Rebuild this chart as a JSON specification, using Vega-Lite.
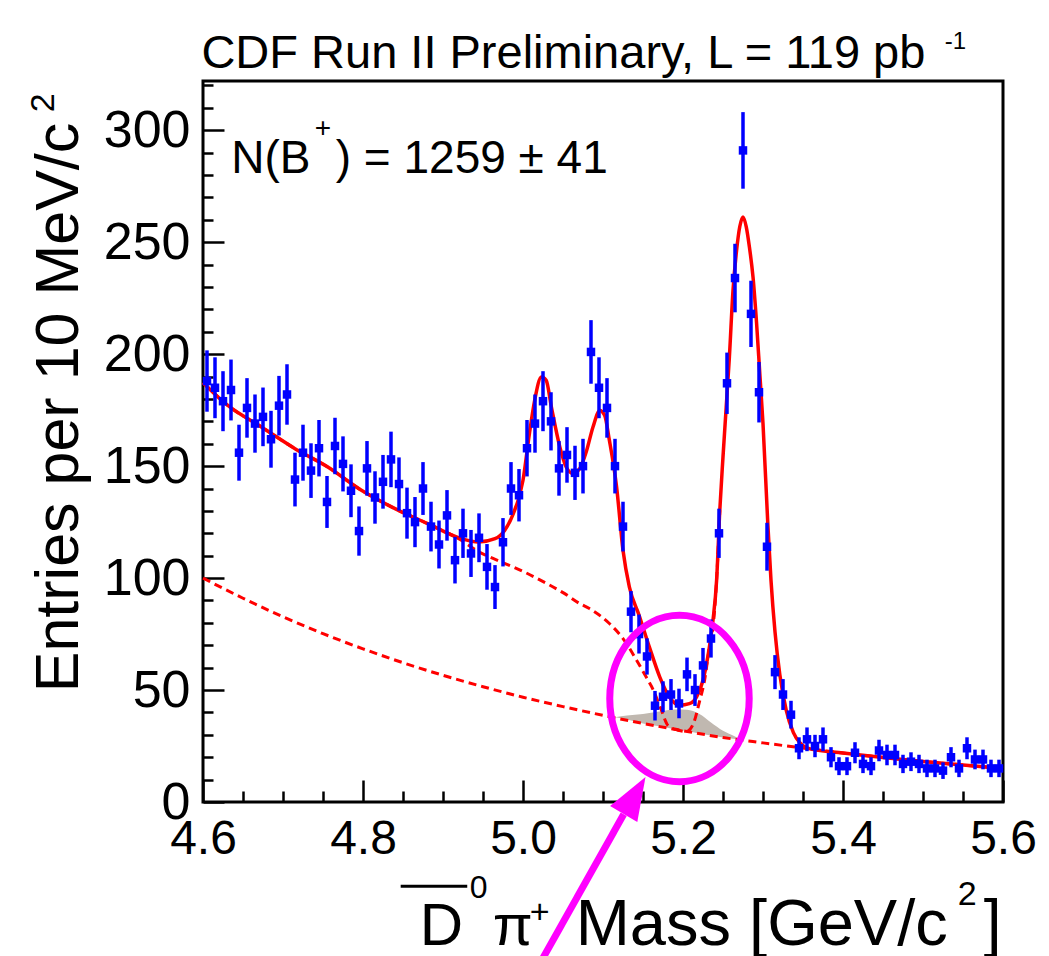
{
  "$schema": "https://vega.github.io/schema/vega-lite/v6.json",
  "width": 800,
  "height": 721,
  "autosize": {"type": "none"},
  "padding": {"left": 203, "top": 81, "right": 46, "bottom": 154},
  "background": "white",
  "config": {
    "view": {"stroke": "#000000", "strokeWidth": 3},
    "axis": {"grid": false, "domain": false, "tickColor": "#000000", "labelColor": "#000000", "labelFont": "Liberation Sans", "tickWidth": 2.5}
  },
  "resolve": {"axis": {"x": "independent", "y": "independent"}},
  "datasets": {
    "bins": [
      {"x":4.605,"n":188,"err":13.7},{"x":4.615,"n":185,"err":13.6},{"x":4.625,"n":179,"err":13.4},{"x":4.635,"n":184,"err":13.6},{"x":4.645,"n":156,"err":12.5},
      {"x":4.655,"n":176,"err":13.3},{"x":4.665,"n":169,"err":13},{"x":4.675,"n":172,"err":13.1},{"x":4.685,"n":162,"err":12.7},{"x":4.695,"n":177,"err":13.3},
      {"x":4.705,"n":182,"err":13.5},{"x":4.715,"n":144,"err":12},{"x":4.725,"n":156,"err":12.5},{"x":4.735,"n":148,"err":12.2},{"x":4.745,"n":158,"err":12.6},
      {"x":4.755,"n":134,"err":11.6},{"x":4.765,"n":159,"err":12.6},{"x":4.775,"n":151,"err":12.3},{"x":4.785,"n":139,"err":11.8},{"x":4.795,"n":121,"err":11},
      {"x":4.805,"n":149,"err":12.2},{"x":4.815,"n":136,"err":11.7},{"x":4.825,"n":143,"err":12},{"x":4.835,"n":153,"err":12.4},{"x":4.845,"n":142,"err":11.9},
      {"x":4.855,"n":129,"err":11.4},{"x":4.865,"n":125,"err":11.2},{"x":4.875,"n":140,"err":11.8},{"x":4.885,"n":123,"err":11.1},{"x":4.895,"n":115,"err":10.7},
      {"x":4.905,"n":128,"err":11.3},{"x":4.915,"n":108,"err":10.4},{"x":4.925,"n":120,"err":11},{"x":4.935,"n":111,"err":10.5},{"x":4.945,"n":118,"err":10.9},
      {"x":4.955,"n":105,"err":10.2},{"x":4.965,"n":96,"err":9.8},{"x":4.975,"n":116,"err":10.8},{"x":4.985,"n":140,"err":11.8},{"x":4.995,"n":137,"err":11.7},
      {"x":5.005,"n":158,"err":12.6},{"x":5.015,"n":169,"err":13},{"x":5.025,"n":179,"err":13.4},{"x":5.035,"n":170,"err":13},{"x":5.045,"n":149,"err":12.2},
      {"x":5.055,"n":155,"err":12.4},{"x":5.065,"n":147,"err":12.1},{"x":5.075,"n":150,"err":12.2},{"x":5.085,"n":201,"err":14.2},{"x":5.095,"n":185,"err":13.6},
      {"x":5.105,"n":176,"err":13.3},{"x":5.115,"n":150,"err":12.2},{"x":5.125,"n":123,"err":11.1},{"x":5.135,"n":85,"err":9.2},{"x":5.145,"n":75,"err":8.7},
      {"x":5.155,"n":65,"err":8.1},{"x":5.165,"n":43,"err":6.6},{"x":5.175,"n":47,"err":6.9},{"x":5.185,"n":48,"err":6.9},{"x":5.195,"n":44,"err":6.6},
      {"x":5.205,"n":57,"err":7.5},{"x":5.215,"n":50,"err":7.1},{"x":5.225,"n":61,"err":7.8},{"x":5.235,"n":73,"err":8.5},{"x":5.245,"n":120,"err":11},
      {"x":5.255,"n":187,"err":13.7},{"x":5.265,"n":234,"err":15.3},{"x":5.275,"n":291,"err":17.1},{"x":5.285,"n":218,"err":14.8},{"x":5.295,"n":183,"err":13.5},
      {"x":5.305,"n":114,"err":10.7},{"x":5.315,"n":58,"err":7.6},{"x":5.325,"n":48,"err":6.9},{"x":5.335,"n":39,"err":6.2},{"x":5.345,"n":24,"err":4.9},
      {"x":5.355,"n":28,"err":5.3},{"x":5.365,"n":25,"err":5},{"x":5.375,"n":28,"err":5.3},{"x":5.385,"n":20,"err":4.5},{"x":5.395,"n":16,"err":4},
      {"x":5.405,"n":16,"err":4},{"x":5.415,"n":22,"err":4.7},{"x":5.425,"n":17,"err":4.1},{"x":5.435,"n":16,"err":4},{"x":5.445,"n":23,"err":4.8},
      {"x":5.455,"n":21,"err":4.6},{"x":5.465,"n":21,"err":4.6},{"x":5.475,"n":17,"err":4.1},{"x":5.485,"n":18,"err":4.2},{"x":5.495,"n":17,"err":4.1},
      {"x":5.505,"n":15,"err":3.9},{"x":5.515,"n":15,"err":3.9},{"x":5.525,"n":14,"err":3.7},{"x":5.535,"n":20,"err":4.5},{"x":5.545,"n":15,"err":3.9},
      {"x":5.555,"n":24,"err":4.9},{"x":5.565,"n":19,"err":4.4},{"x":5.575,"n":19,"err":4.4},{"x":5.585,"n":15,"err":3.9},{"x":5.595,"n":15,"err":3.9}
    ],
    "fit": [
      {"x":4.6,"y":187.3},{"x":4.631,"y":177.1},{"x":4.673,"y":167.5},{"x":4.715,"y":157.8},{"x":4.756,"y":149.6},{"x":4.798,"y":139.2},
      {"x":4.84,"y":131.0},{"x":4.881,"y":124.3},{"x":4.923,"y":117.6},{"x":4.944,"y":116.1},{"x":4.965,"y":117.6},{"x":4.977,"y":121.3},
      {"x":4.9875,"y":128.5},{"x":5.0,"y":143.7},{"x":5.008,"y":164.5},{"x":5.0146,"y":179.4},{"x":5.023,"y":189.8},{"x":5.029,"y":188.3},
      {"x":5.0355,"y":176.4},{"x":5.046,"y":158.6},{"x":5.054,"y":149.6},{"x":5.0625,"y":146.7},{"x":5.071,"y":148.9},{"x":5.079,"y":156.3},
      {"x":5.0875,"y":167.5},{"x":5.096,"y":174.9},{"x":5.102,"y":172.7},{"x":5.108,"y":161.5},{"x":5.117,"y":140.7},{"x":5.125,"y":112.4},
      {"x":5.133,"y":96.0},{"x":5.145,"y":83.5},{"x":5.158,"y":69.2},{"x":5.171,"y":55.8},{"x":5.183,"y":46.9},{"x":5.196,"y":43.2},
      {"x":5.208,"y":43.9},{"x":5.217,"y":46.9},{"x":5.225,"y":54.4},{"x":5.231,"y":64.8},{"x":5.2375,"y":81.2},{"x":5.242,"y":99.0},
      {"x":5.246,"y":130.3},{"x":5.25,"y":154.1},{"x":5.254,"y":176.4},{"x":5.258,"y":198.8},{"x":5.2625,"y":228.5},{"x":5.267,"y":246.4},
      {"x":5.271,"y":257.0},{"x":5.275,"y":261.3},{"x":5.279,"y":257.0},{"x":5.283,"y":247.9},{"x":5.2875,"y":234.5},{"x":5.292,"y":213.7},
      {"x":5.296,"y":191.3},{"x":5.3,"y":169.0},{"x":5.306,"y":124.3},{"x":5.31,"y":99.0},{"x":5.315,"y":76.0},{"x":5.321,"y":57.0},
      {"x":5.329,"y":41.0},{"x":5.338,"y":31.0},{"x":5.346,"y":26.5},{"x":5.36,"y":23.6},{"x":5.4,"y":21.9},{"x":5.45,"y":19.9},
      {"x":5.5,"y":18.1},{"x":5.55,"y":16.5},{"x":5.6,"y":15.0}
    ],
    "comb": [
      {"x":4.6,"y":187.3},{"x":4.631,"y":177.1},{"x":4.673,"y":167.5},{"x":4.715,"y":157.8},{"x":4.756,"y":149.6},{"x":4.798,"y":139.2},
      {"x":4.84,"y":131.0},{"x":4.881,"y":124.3},{"x":4.92,"y":117.5},{"x":4.946,"y":111.5},{"x":4.971,"y":107.5},{"x":5.0,"y":103.0},
      {"x":5.03,"y":97.5},{"x":5.05,"y":93.5},{"x":5.071,"y":88.6},{"x":5.083,"y":86.4},{"x":5.108,"y":79.7},{"x":5.125,"y":73.0},
      {"x":5.142,"y":63.3},{"x":5.154,"y":55.8},{"x":5.163,"y":49.9},{"x":5.173,"y":41.0},{"x":5.181,"y":34.3},{"x":5.192,"y":32.3},{"x":5.2,"y":31.8}
    ],
    "sig": [
      {"x":5.19,"y":32.6},{"x":5.204,"y":31.4},{"x":5.213,"y":35.0},{"x":5.221,"y":45.4},{"x":5.227,"y":54.4},{"x":5.233,"y":69.2},
      {"x":5.238,"y":79.7},{"x":5.242,"y":99.0},{"x":5.246,"y":130.3}
    ],
    "bkg": [
      {"x":4.6,"y":100},{"x":4.65,"y":91},{"x":4.7,"y":82.7},{"x":4.75,"y":75.2},{"x":4.8,"y":68.4},{"x":4.85,"y":62.2},{"x":4.9,"y":56.6},
      {"x":4.95,"y":51.5},{"x":5.0,"y":46.8},{"x":5.05,"y":42.6},{"x":5.1,"y":38.7},{"x":5.15,"y":35.1},{"x":5.2,"y":31.8},{"x":5.25,"y":28.8},
      {"x":5.3,"y":26.4},{"x":5.35,"y":24.1},{"x":5.4,"y":21.9},{"x":5.45,"y":19.9},{"x":5.5,"y":18.1},{"x":5.55,"y":16.5},{"x":5.6,"y":15.0}
    ],
    "dk": [
      {"x":5.115,"lo":37.9,"hi":37.9},{"x":5.13,"lo":36.9,"hi":38.6},{"x":5.15,"lo":35.1,"hi":39.3},{"x":5.17,"lo":33.8,"hi":40.4},
      {"x":5.19,"lo":32.5,"hi":41.3},{"x":5.205,"lo":31.6,"hi":41.2},{"x":5.22,"lo":30.6,"hi":39.4},{"x":5.235,"lo":29.7,"hi":35.5},
      {"x":5.25,"lo":28.8,"hi":31.8},{"x":5.265,"lo":28.1,"hi":29.2},{"x":5.272,"lo":27.8,"hi":27.8}
    ]
  },
  "layer": [
    {
      "data": {"name": "dk"},
      "mark": {"type": "area", "color": "#c0b8b0", "interpolate": "monotone"},
      "encoding": {
        "x": {"field": "x", "type": "quantitative", "scale": {"domain": [4.6, 5.6], "nice": false, "zero": false}, "axis": null},
        "y": {"field": "hi", "type": "quantitative", "scale": {"domain": [0, 322], "nice": false}, "axis": null},
        "y2": {"field": "lo"}
      }
    },
    {
      "data": {"name": "bkg"},
      "mark": {"type": "line", "color": "#ff0000", "strokeWidth": 3, "strokeDash": [8, 5], "interpolate": "monotone"},
      "encoding": {
        "x": {"field": "x", "type": "quantitative", "scale": {"domain": [4.6, 5.6], "nice": false, "zero": false},
              "axis": {"orient": "bottom", "title": null, "labels": false, "tickSize": -11, "values": [4.65,4.7,4.75,4.85,4.9,4.95,5.05,5.1,5.15,5.25,5.3,5.35,5.45,5.5,5.55]}},
        "y": {"field": "y", "type": "quantitative", "scale": {"domain": [0, 322], "nice": false},
              "axis": {"orient": "left", "title": null, "labels": false, "tickSize": -10, "values": [10,20,30,40,60,70,80,90,110,120,130,140,160,170,180,190,210,220,230,240,260,270,280,290,310,320]}}
      }
    },
    {
      "data": {"name": "comb"},
      "mark": {"type": "line", "color": "#ff0000", "strokeWidth": 3, "strokeDash": [8, 5], "interpolate": "monotone"},
      "encoding": {
        "x": {"field": "x", "type": "quantitative", "scale": {"domain": [4.6, 5.6], "nice": false, "zero": false}, "axis": null},
        "y": {"field": "y", "type": "quantitative", "scale": {"domain": [0, 322], "nice": false}, "axis": null}
      }
    },
    {
      "data": {"name": "sig"},
      "mark": {"type": "line", "color": "#ff0000", "strokeWidth": 3, "strokeDash": [8, 5], "interpolate": "monotone"},
      "encoding": {
        "x": {"field": "x", "type": "quantitative", "scale": {"domain": [4.6, 5.6], "nice": false, "zero": false}, "axis": null},
        "y": {"field": "y", "type": "quantitative", "scale": {"domain": [0, 322], "nice": false}, "axis": null}
      }
    },
    {
      "data": {"name": "fit"},
      "mark": {"type": "line", "color": "#ff0000", "strokeWidth": 3.5, "interpolate": "monotone"},
      "encoding": {
        "x": {"field": "x", "type": "quantitative", "scale": {"domain": [4.6, 5.6], "nice": false, "zero": false}, "axis": null},
        "y": {"field": "y", "type": "quantitative", "scale": {"domain": [0, 322], "nice": false}, "axis": null}
      }
    },
    {
      "data": {"name": "bins"},
      "mark": {"type": "errorbar", "ticks": false, "thickness": 3.5, "color": "#0000ff", "rule": {"strokeWidth": 3.5, "color": "#0000ff"}},
      "encoding": {
        "x": {"field": "x", "type": "quantitative", "scale": {"domain": [4.6, 5.6], "nice": false, "zero": false}, "axis": null},
        "y": {"field": "n", "type": "quantitative", "scale": {"domain": [0, 322], "nice": false}, "axis": null},
        "yError": {"field": "err"}
      }
    },
    {
      "data": {"name": "bins"},
      "mark": {"type": "point", "shape": "square", "filled": true, "size": 72, "color": "#0000ff", "opacity": 1},
      "encoding": {
        "x": {"field": "x", "type": "quantitative", "scale": {"domain": [4.6, 5.6], "nice": false, "zero": false},
              "axis": {"orient": "bottom", "title": null, "values": [4.6, 4.8, 5.0, 5.2, 5.4, 5.6], "format": ".1f", "tickSize": -22, "labelFontSize": 48, "labelPadding": 35, "labelFlush": false, "labelOverlap": false}},
        "y": {"field": "n", "type": "quantitative", "scale": {"domain": [0, 322], "nice": false},
              "axis": {"orient": "left", "title": null, "values": [0, 50, 100, 150, 200, 250, 300], "tickSize": -21, "labelFontSize": 52, "labelPadding": 34, "labelFlush": false, "labelOverlap": false}}
      }
    },
    {
      "data": {"values": [{}]},
      "mark": {"type": "point", "shape": "M -0.838 0 A 0.838 1 0 1 0 0.838 0 A 0.838 1 0 1 0 -0.838 0 Z", "filled": false, "color": "#ff00ff", "strokeWidth": 7, "size": 27689, "opacity": 1},
      "encoding": {
        "x": {"datum": 5.1956, "type": "quantitative", "scale": {"domain": [4.6, 5.6], "nice": false, "zero": false}, "axis": null},
        "y": {"datum": 46.2, "type": "quantitative", "scale": {"domain": [0, 322], "nice": false}, "axis": null}
      }
    },
    {
      "data": {"values": [{}]},
      "mark": {"type": "rule", "color": "#ff00ff", "strokeWidth": 7},
      "encoding": {
        "x": {"datum": 5.0166, "type": "quantitative", "scale": {"domain": [4.6, 5.6], "nice": false, "zero": false}, "axis": null},
        "y": {"datum": -75, "type": "quantitative", "scale": {"domain": [0, 322], "nice": false}, "axis": null},
        "x2": {"datum": 5.1259},
        "y2": {"datum": -5.5}
      }
    },
    {
      "data": {"values": [{}]},
      "mark": {"type": "point", "shape": "M 0 -1 L 0.735 1 L -0.735 1 Z", "filled": true, "color": "#ff00ff", "size": 1849, "angle": 30.5, "opacity": 1},
      "encoding": {
        "x": {"datum": 5.1395, "type": "quantitative", "scale": {"domain": [4.6, 5.6], "nice": false, "zero": false}, "axis": null},
        "y": {"datum": 2.9, "type": "quantitative", "scale": {"domain": [0, 322], "nice": false}, "axis": null}
      }
    },
    {
      "data": {"values": [
        {"t": "CDF Run II Preliminary, L = 119 pb", "px": 4.598, "py": 327.7, "fs": 47, "ang": 0},
        {"t": "-1", "px": 5.5271, "py": 336.5, "fs": 24, "ang": 0},
        {"t": "N(B", "px": 4.6353, "py": 280.8, "fs": 46, "ang": 0},
        {"t": "+", "px": 4.7396, "py": 296.8, "fs": 28, "ang": 0},
        {"t": ") = 1259 ± 41", "px": 4.7659, "py": 280.8, "fs": 46, "ang": 0},
        {"t": "D", "px": 4.8709, "py": -64.0, "fs": 60, "ang": 0},
        {"t": "0", "px": 4.9334, "py": -43.0, "fs": 32, "ang": 0},
        {"t": "π", "px": 4.9621, "py": -64.0, "fs": 58, "ang": 0},
        {"t": "+", "px": 5.0084, "py": -54.2, "fs": 34, "ang": 0},
        {"t": "Mass [GeV/c", "px": 5.0659, "py": -64.0, "fs": 65, "ang": 0},
        {"t": "2", "px": 5.5434, "py": -46.1, "fs": 34, "ang": 0},
        {"t": "]", "px": 5.5759, "py": -64.0, "fs": 64, "ang": 0},
        {"t": "Entries per 10 MeV/c", "px": 4.4434, "py": 49.0, "fs": 61, "ang": 270},
        {"t": "2", "px": 4.4141, "py": 308.0, "fs": 34, "ang": 270}
      ]},
      "mark": {"type": "text", "align": "left", "baseline": "alphabetic", "font": "Liberation Sans", "color": "#000000"},
      "encoding": {
        "x": {"field": "px", "type": "quantitative", "scale": {"domain": [4.6, 5.6], "nice": false, "zero": false}, "axis": null},
        "y": {"field": "py", "type": "quantitative", "scale": {"domain": [0, 322], "nice": false}, "axis": null},
        "text": {"field": "t"},
        "size": {"field": "fs", "type": "quantitative", "scale": null},
        "angle": {"field": "ang", "type": "quantitative", "scale": null}
      }
    },
    {
      "data": {"values": [{}]},
      "mark": {"type": "rule", "color": "#000000", "strokeWidth": 3},
      "encoding": {
        "x": {"datum": 4.8471, "type": "quantitative", "scale": {"domain": [4.6, 5.6], "nice": false, "zero": false}, "axis": null},
        "y": {"datum": -37.6, "type": "quantitative", "scale": {"domain": [0, 322], "nice": false}, "axis": null},
        "x2": {"datum": 4.9303}
      }
    }
  ]
}
